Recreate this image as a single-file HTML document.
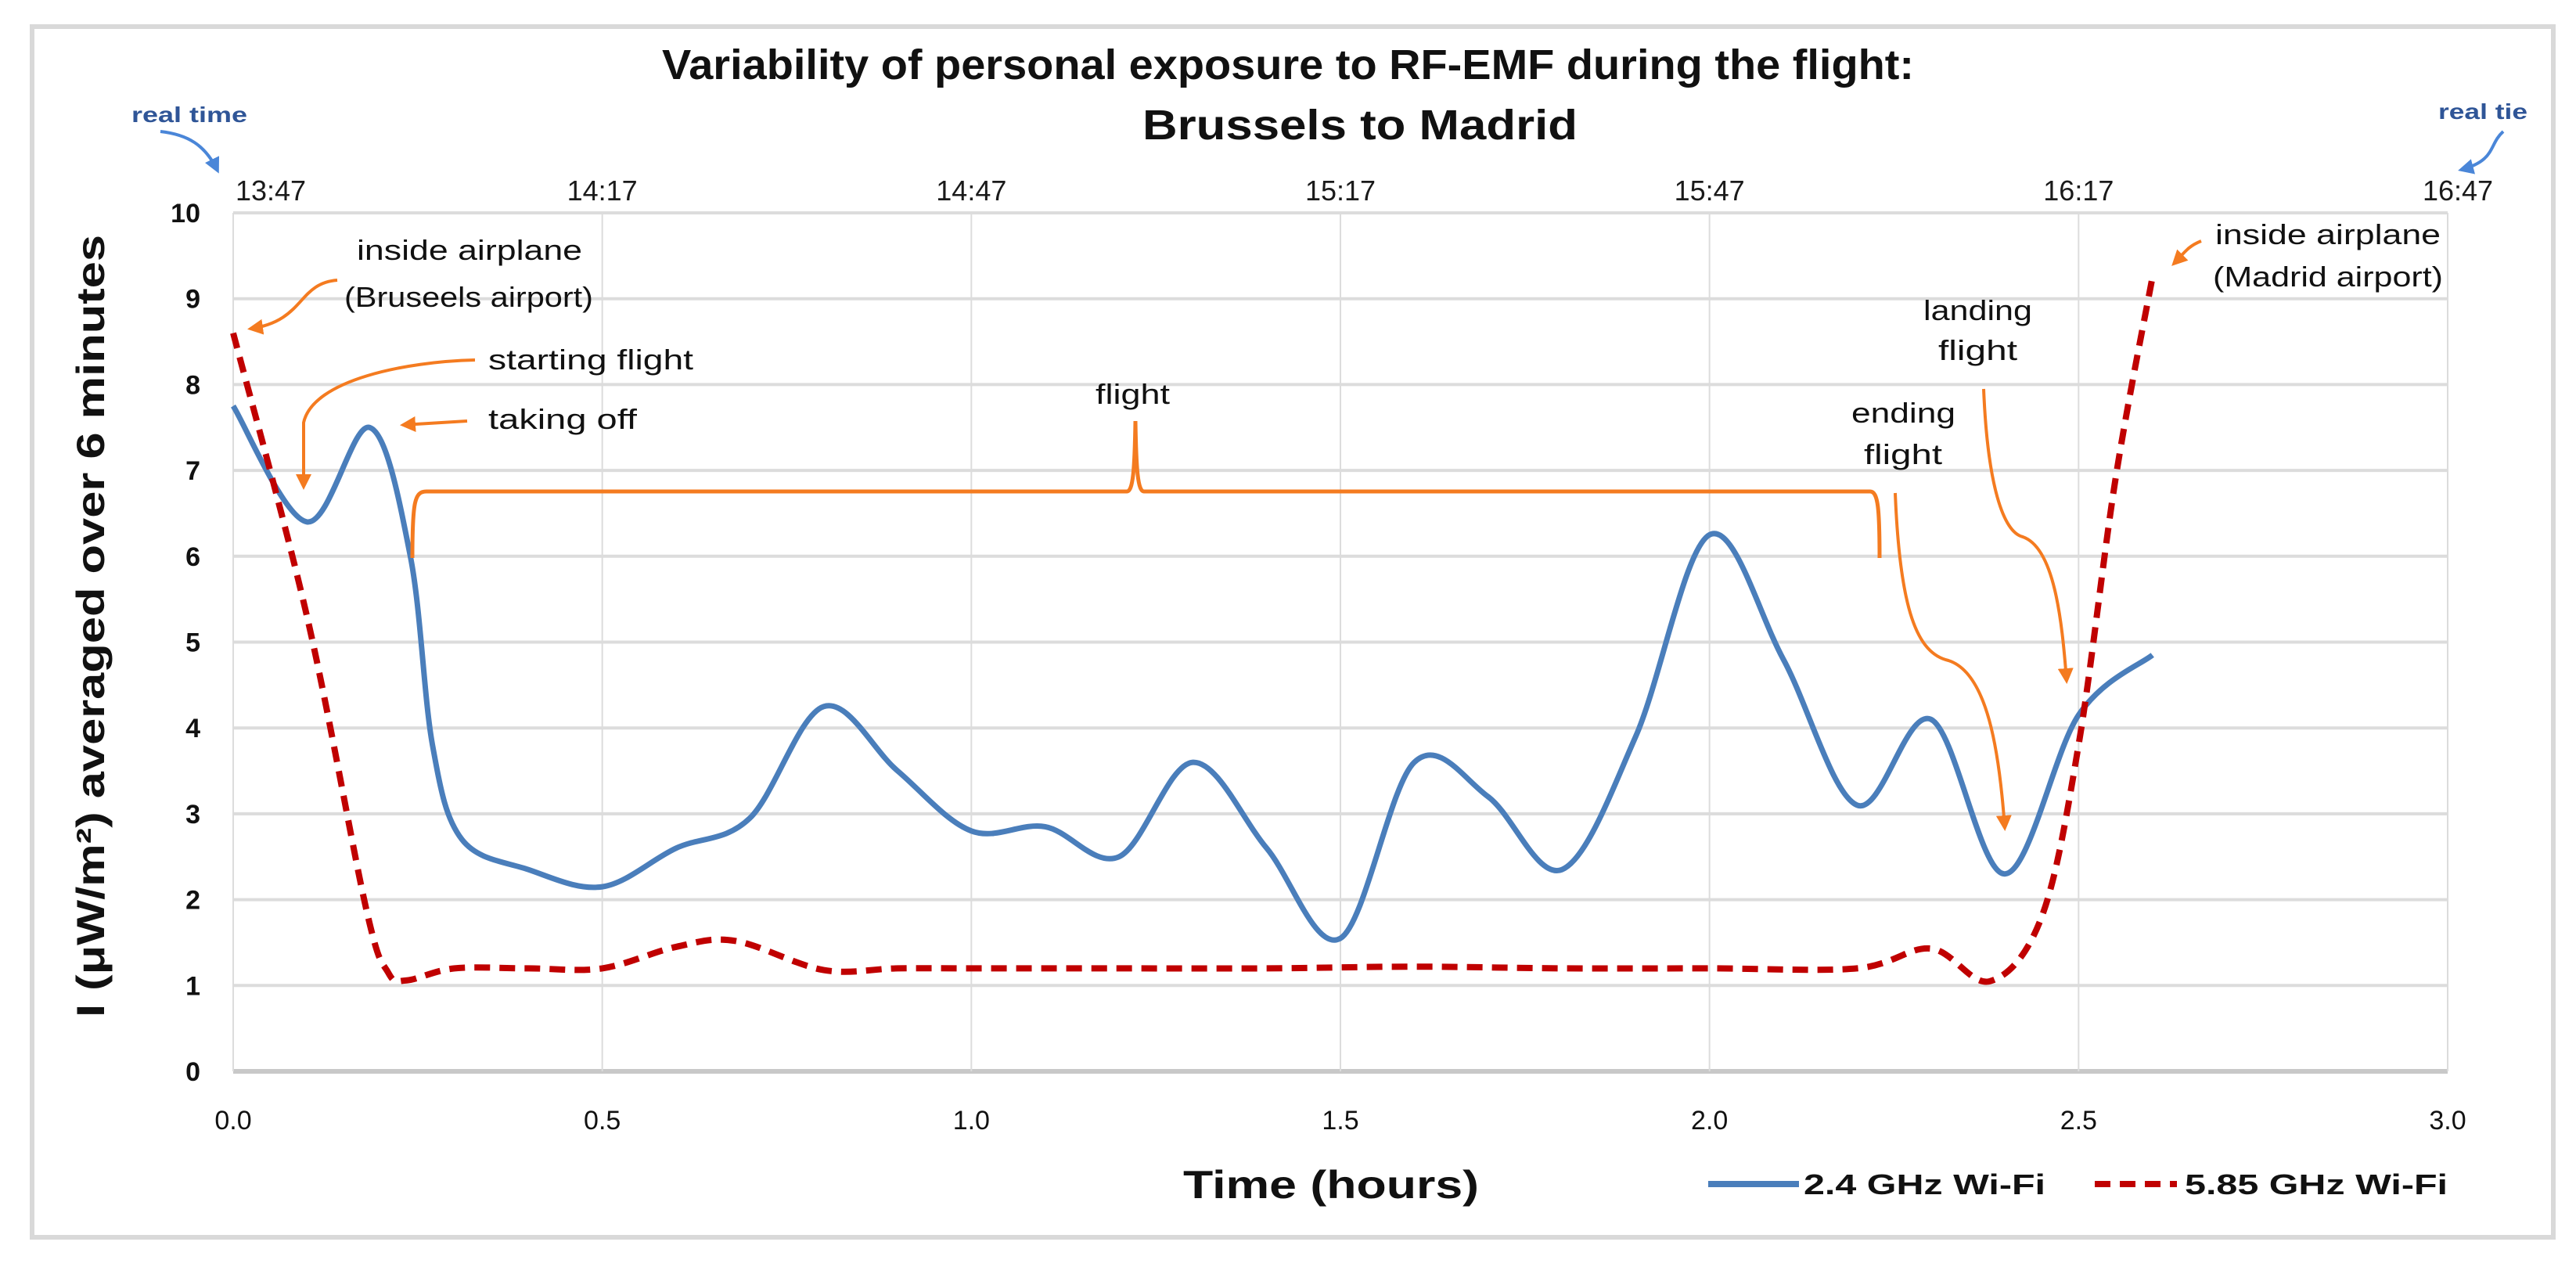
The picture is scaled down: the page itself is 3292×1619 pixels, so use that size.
<!DOCTYPE html>
<html><head><meta charset="utf-8"><style>
html,body{margin:0;padding:0;background:#fff;}
svg{display:block;font-family:"Liberation Sans",sans-serif;}
</style></head><body>
<svg id="chart" width="3292" height="1619" viewBox="0 0 3292 1619" xmlns="http://www.w3.org/2000/svg">
<defs>
<marker id="ao" viewBox="0 0 10 10" refX="8" refY="5" markerWidth="5" markerHeight="5" orient="auto-start-reverse"><path d="M0,0 L10,5 L0,10 z" fill="#F47B20"/></marker>
<marker id="ab" viewBox="0 0 10 10" refX="8" refY="5" markerWidth="5" markerHeight="5" orient="auto-start-reverse"><path d="M0,0 L10,5 L0,10 z" fill="#4A86D8"/></marker>
</defs>
<rect x="41" y="34" width="3222" height="1547" fill="#fff" stroke="#D9D9D9" stroke-width="6"/>
<g id="grid"></g>
<g id="axes"></g>
<g id="series"></g>
<g id="annot" fill="#111" font-size="36">
 <text x="846" y="101" font-size="54" font-weight="bold" textLength="1600" lengthAdjust="spacingAndGlyphs">Variability of personal exposure to RF-EMF during the flight:</text>
 <text x="1460" y="178" font-size="54" font-weight="bold" textLength="556" lengthAdjust="spacingAndGlyphs">Brussels to Madrid</text>
 <text transform="translate(133,800) rotate(-90)" text-anchor="middle" font-size="50" font-weight="bold" textLength="1000" lengthAdjust="spacingAndGlyphs">I (μW/m²) averaged over 6 minutes</text>
 <text x="1512" y="1531" font-size="50" font-weight="bold" textLength="378" lengthAdjust="spacingAndGlyphs">Time (hours)</text>

 <text x="168" y="156" font-size="28" font-weight="bold" fill="#2F5597" textLength="148" lengthAdjust="spacingAndGlyphs">real time</text>
 <path d="M205,168 C240,172 262,185 278,218" fill="none" stroke="#4A86D8" stroke-width="4" marker-end="url(#ab)"/>
 <text x="3116" y="152" font-size="28" font-weight="bold" fill="#2F5597" textLength="114" lengthAdjust="spacingAndGlyphs">real tie</text>
 <path d="M3199,168 C3180,185 3190,205 3145,217" fill="none" stroke="#4A86D8" stroke-width="4" marker-end="url(#ab)"/>

 <text x="456" y="332" textLength="288" lengthAdjust="spacingAndGlyphs">inside airplane</text>
 <text x="440" y="392" textLength="318" lengthAdjust="spacingAndGlyphs">(Bruseels airport)</text>
 <path d="M431,358 C380,362 390,410 320,420" fill="none" stroke="#F47B20" stroke-width="4" marker-end="url(#ao)"/>
 <text x="624" y="472" textLength="262" lengthAdjust="spacingAndGlyphs">starting flight</text>
 <path d="M607,460 C520,462 400,485 388,540 L388,622" fill="none" stroke="#F47B20" stroke-width="4" marker-end="url(#ao)"/>
 <text x="624" y="548" textLength="190" lengthAdjust="spacingAndGlyphs">taking off</text>
 <path d="M597,538 L515,543" fill="none" stroke="#F47B20" stroke-width="4" marker-end="url(#ao)"/>
 <text x="1400" y="516" textLength="95" lengthAdjust="spacingAndGlyphs">flight</text>
 <path d="M527,713 C527,640 530,628 545,628 L1440,628 C1448,628 1450,600 1451,538 C1452,600 1454,628 1462,628 L2390,628 C2400,628 2402,650 2402,713" fill="none" stroke="#F47B20" stroke-width="5"/>
 <text x="2366" y="540" textLength="133" lengthAdjust="spacingAndGlyphs">ending</text>
 <text x="2382" y="593" textLength="100" lengthAdjust="spacingAndGlyphs">flight</text>
 <path d="M2422,630 C2428,780 2450,835 2490,844 C2540,860 2555,960 2562,1058" fill="none" stroke="#F47B20" stroke-width="4" marker-end="url(#ao)"/>
 <text x="2458" y="409" textLength="139" lengthAdjust="spacingAndGlyphs">landing</text>
 <text x="2477" y="460" textLength="101" lengthAdjust="spacingAndGlyphs">flight</text>
 <path d="M2535,497 C2540,620 2560,680 2585,686 C2625,700 2635,790 2641,870" fill="none" stroke="#F47B20" stroke-width="4" marker-end="url(#ao)"/>
 <text x="2831" y="312" textLength="288" lengthAdjust="spacingAndGlyphs">inside airplane</text>
 <text x="2828" y="366" textLength="294" lengthAdjust="spacingAndGlyphs">(Madrid airport)</text>
 <path d="M2813,308 C2795,315 2790,325 2778,337" fill="none" stroke="#F47B20" stroke-width="4" marker-end="url(#ao)"/>

 <line x1="2183" y1="1513" x2="2299" y2="1513" stroke="#4A7EBB" stroke-width="8"/>
 <text x="2305" y="1526" font-weight="bold" textLength="309" lengthAdjust="spacingAndGlyphs">2.4 GHz Wi-Fi</text>
 <line x1="2677" y1="1513" x2="2782" y2="1513" stroke="#C00000" stroke-width="8" stroke-dasharray="20 12"/>
 <text x="2792" y="1526" font-weight="bold" textLength="336" lengthAdjust="spacingAndGlyphs">5.85 GHz Wi-Fi</text>
</g>
</svg>
<script>
const xTicks = [0, 0.5, 1.0, 1.5, 2.0, 2.5, 3.0];
const xTickLabels = ["0.0", "0.5", "1.0", "1.5", "2.0", "2.5", "3.0"];
const topTimeLabels = ["13:47", "14:17", "14:47", "15:17", "15:47", "16:17", "16:47"];
const yTicks = [0,1,2,3,4,5,6,7,8,9,10];
const wifi24Hours = [0,0.1,0.185,0.24,0.27,0.31,0.4,0.5,0.6,0.7,0.8,0.9,1.0,1.1,1.2,1.3,1.4,1.5,1.6,1.7,1.8,1.9,2.0,2.1,2.2,2.3,2.4,2.5,2.6];
const wifi24Values = [7.75,6.4,7.5,6.0,3.8,2.7,2.35,2.15,2.6,2.95,4.25,3.5,2.8,2.85,2.5,3.6,2.6,1.55,3.6,3.2,2.35,3.9,6.25,4.8,3.1,4.1,2.3,4.15,4.85];
const wifi585Hours = [0,0.1,0.18,0.21,0.235,0.3,0.4,0.5,0.6,0.68,0.8,0.9,1.0,1.2,1.4,1.6,1.8,2.0,2.2,2.3,2.38,2.45,2.5,2.55,2.6];
const wifi585Values = [8.6,5.3,1.9,1.15,1.06,1.2,1.2,1.2,1.45,1.52,1.18,1.2,1.2,1.2,1.2,1.22,1.2,1.2,1.2,1.43,1.05,1.8,3.8,6.9,9.25];

const NS = "http://www.w3.org/2000/svg";
const X0 = 298, X1 = 3128, Y0 = 1369, Y1 = 272;
function xs(v){ return X0 + (v - 0) / 3 * (X1 - X0); }
function ys(v){ return Y0 - v / 10 * (Y0 - Y1); }
function mk(tag, attrs, parent){ const e = document.createElementNS(NS, tag); for (const k in attrs) e.setAttribute(k, attrs[k]); parent.appendChild(e); return e; }

const grid = document.getElementById('grid');
const axes = document.getElementById('axes');
yTicks.forEach(function(t){
  const l = mk('line', {x1: X0, x2: X1, y1: ys(t), y2: ys(t), stroke: t === 0 ? '#C8C8C8' : '#DCDCDC', 'stroke-width': t === 0 ? 6 : 4}, grid);
  
  
  const tx = mk('text', {x: 256, y: ys(t) + 12, 'text-anchor': 'end', 'font-size': 34, 'font-weight': 'bold', fill: '#111'}, axes);
  tx.textContent = String(t);
  
  
});
xTicks.forEach(function(t, i){
  const l = mk('line', {x1: xs(t), x2: xs(t), y1: Y1, y2: Y0, stroke: '#DCDCDC', 'stroke-width': 2}, grid);
  
  
  const tx = mk('text', {x: xs(t), y: 1443, 'text-anchor': 'middle', 'font-size': 34, fill: '#111'}, axes);
  tx.textContent = xTickLabels[i];
  
  
  let off = 0;
  if (i === 0) off = 48;
  if (i === xTicks.length - 1) off = 13;
  const tt = mk('text', {x: xs(t) + off, y: 256, 'text-anchor': 'middle', 'font-size': 36, fill: '#1a1a1a'}, axes);
  tt.textContent = topTimeLabels[i];
  
  
});

function smoothPath(hx, vy){
  const p = hx.map(function(h, i){ return [xs(h), ys(vy[i])]; });
  let d = 'M' + p[0][0].toFixed(1) + ',' + p[0][1].toFixed(1);
  for (let i = 0; i < p.length - 1; i++){
    const a = p[Math.max(0, i - 1)], b = p[i], c = p[i + 1], e = p[Math.min(p.length - 1, i + 2)];
    const c1x = b[0] + (c[0] - a[0]) / 6, c1y = b[1] + (c[1] - a[1]) / 6;
    const c2x = c[0] - (e[0] - b[0]) / 6, c2y = c[1] - (e[1] - b[1]) / 6;
    d += ' C' + c1x.toFixed(1) + ',' + c1y.toFixed(1) + ' ' + c2x.toFixed(1) + ',' + c2y.toFixed(1) + ' ' + c[0].toFixed(1) + ',' + c[1].toFixed(1);
  }
  return d;
}
const series = document.getElementById('series');
const s1 = mk('path', {d: smoothPath(wifi24Hours, wifi24Values), fill: 'none', stroke: '#4A7EBB', 'stroke-width': 7, 'stroke-linejoin': 'round'}, series);


const s2 = mk('path', {d: smoothPath(wifi585Hours, wifi585Values), fill: 'none', stroke: '#C00000', 'stroke-width': 8, 'stroke-dasharray': '20 12'}, series);


</script>
</body></html>
